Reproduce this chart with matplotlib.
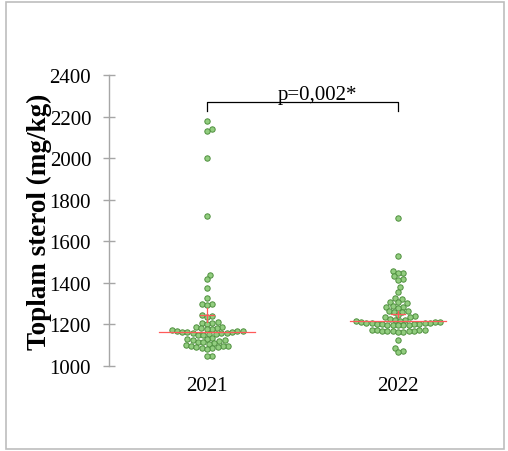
import numpy as np
import matplotlib
matplotlib.use("Agg")
import matplotlib.pyplot as plt
from matplotlib.patches import Rectangle

plt.rcParams['font.family'] = ['Liberation Serif', 'DejaVu Serif']

# Total sterol values per year (mg/kg)
years = ["2021", "2022"]
sterol_2021 = [2180, 2140, 2132, 2000, 1722,
               1439, 1417, 1377, 1326,
               1300, 1297, 1294,
               1246, 1242, 1238,
               1212, 1208, 1205, 1202,
               1190, 1187, 1185, 1183, 1180, 1177,
               1172, 1170, 1168, 1167, 1165, 1164, 1162, 1160, 1158, 1157,
               1155, 1153, 1151, 1150,
               1135, 1132, 1129, 1126, 1123, 1120, 1117, 1114, 1111, 1108,
               1100, 1098, 1096, 1094, 1092, 1090, 1088, 1086, 1084,
               1050, 1046]
sterol_2022 = [1710, 1531,
               1459, 1448, 1447, 1432, 1417, 1415,
               1379, 1355,
               1327, 1324,
               1309, 1306, 1303,
               1288, 1285, 1283, 1280,
               1266, 1263, 1261, 1259,
               1243, 1240, 1238, 1236,
               1224, 1222, 1220, 1218, 1216,
               1212, 1211, 1210, 1209, 1207, 1206, 1205, 1204, 1203, 1202,
               1200, 1199, 1198, 1197, 1196, 1195,
               1175, 1173, 1172, 1171, 1170, 1169, 1168, 1167, 1166, 1165, 1163,
               1126, 1086, 1073, 1065]
groups = [sterol_2021, sterol_2022]
yticks = [1000, 1200, 1400, 1600, 1800, 2000, 2200, 2400]
p_label = "p=0,002*"

W, H, DPI = 508, 452, 100
fig = plt.figure(figsize=(W / DPI, H / DPI), dpi=DPI)
ax_left, ax_right = 108.5 / W, 500 / W
ax_bottom, ax_top = (H - 367) / H, (H - 76) / H
ax = fig.add_axes([ax_left, ax_bottom, ax_right - ax_left, ax_top - ax_bottom])

ymin, ymax = 1000, 2400
xlo, xhi = -0.516, 1.534
ax.set_ylim(ymin, ymax)
ax.set_xlim(xlo, xhi)

# pixel scale factors for the swarm layout
px_per_y = (ax_top - ax_bottom) * H / (ymax - ymin)
px_per_x = (ax_right - ax_left) * W / (xhi - xlo)
diam = 5.3  # marker spacing in pixels


def swarm_offsets(vals):
    order = np.argsort(vals)
    ys = np.asarray(vals, float) * px_per_y
    placed = []
    offs = np.zeros(len(vals))
    step = diam * 0.1
    cands = [0.0]
    for k in range(1, 300):
        cands += [k * step, -k * step]
    for i in order:
        y = ys[i]
        best = 0.0
        for c in cands:
            ok = True
            for (px, py) in placed:
                if (px - c) ** 2 + (py - y) ** 2 < (diam * 0.97) ** 2:
                    ok = False
                    break
            if ok:
                best = c
                break
        placed.append((best, y))
        offs[i] = best
    return offs / px_per_x


fill_col = "#92cd7f"
edge_col = "#4e8f3e"
red = "#ff5a5a"
for gi, vals in enumerate(groups):
    offs = swarm_offsets(vals)
    ax.scatter(gi + offs, vals, s=15, facecolor=fill_col, edgecolor=edge_col,
               linewidth=0.7, zorder=2)
    med = np.median(vals)
    mean = np.mean(vals)
    sem = np.std(vals, ddof=1) / np.sqrt(len(vals))
    half_med = 48 / px_per_x
    half_mean = 7 / px_per_x
    ax.plot([gi - half_med, gi + half_med], [med, med], color=red, lw=0.9, zorder=3)
    ax.plot([gi - half_mean, gi + half_mean], [mean, mean], color=red, lw=0.9, zorder=3)
    ax.plot([gi, gi], [mean - sem, mean + sem], color=red, lw=0.9, zorder=3)

# significance bracket
y_br = 2268
y_leg = 2228
ax.plot([0, 0, 1, 1], [y_leg, y_br, y_br, y_leg], color="black", lw=0.9,
        clip_on=False, zorder=3)
ax.text(0.58, 2283, p_label, ha="center", va="baseline", fontsize=15)

# axes styling
for side in ["top", "right", "bottom"]:
    ax.spines[side].set_visible(False)
ax.spines["left"].set_color("#a6a6a6")
ax.spines["left"].set_linewidth(1.0)
ax.set_yticks(yticks)
ax.set_yticklabels([str(t) for t in yticks])
ax.tick_params(axis="y", direction="inout", length=9, width=1.0,
               color="#a6a6a6", labelsize=15, pad=8)
ax.set_xticks([0, 1])
ax.set_xticklabels(years)
ax.tick_params(axis="x", length=0, labelsize=15, pad=7)
ax.set_ylabel("Toplam sterol (mg/kg)", fontsize=19.5, fontweight="bold")
ax.yaxis.set_label_coords(-0.145, 0.5)

# outer frame
fig.add_artist(Rectangle((6 / W, 2 / H), (W - 10) / W, (H - 5) / H,
                         transform=fig.transFigure, fill=False,
                         edgecolor="#bdbdbd", lw=1.2))

fig.savefig("out.png", dpi=DPI)
